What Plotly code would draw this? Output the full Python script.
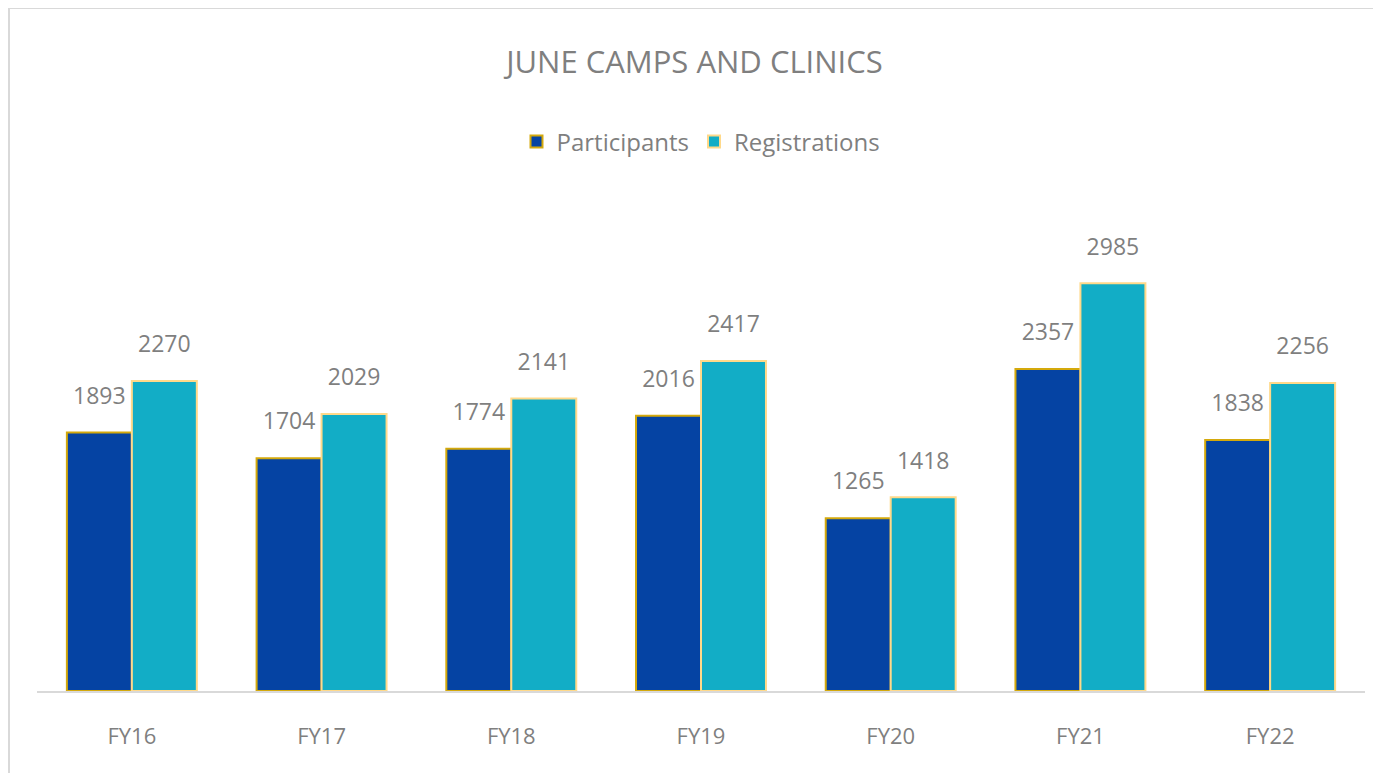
import plotly.graph_objects as go

categories = ["FY16", "FY17", "FY18", "FY19", "FY20", "FY21", "FY22"]
participants = [1893, 1704, 1774, 2016, 1265, 2357, 1838]
registrations = [2270, 2029, 2141, 2417, 1418, 2985, 2256]

FONT = "Open Sans"
GRAY = "#7f7f7f"
label_tpl = "<span style='font-size:23px'>%{y}</span><br> "

W, H = 1373, 765  # page body adds an 8px offset

fig = go.Figure()
fig.add_trace(go.Bar(
    name="Participants", x=categories, y=participants,
    marker=dict(color="#0543A3", line=dict(color="#D4A90C", width=2)),
    texttemplate=label_tpl, textposition="outside",
    textfont=dict(family=FONT, size=16, color=GRAY), cliponaxis=False,
))
fig.add_trace(go.Bar(
    name="Registrations", x=categories, y=registrations,
    marker=dict(color="#12ADC6", line=dict(color="#FFD98A", width=2)),
    texttemplate=label_tpl, textposition="outside",
    textfont=dict(family=FONT, size=16, color=GRAY), cliponaxis=False,
))

fig.update_layout(
    width=W, height=H,
    paper_bgcolor="white", plot_bgcolor="white",
    barmode="group", bargap=0.315, bargroupgap=0,
    margin=dict(l=29, r=16, t=205, b=82),
    title=dict(text="JUNE CAMPS AND CLINICS", x=0.5, xanchor="center",
               y=1 - 54 / H, yanchor="middle",
               font=dict(family=FONT, size=31, color=GRAY)),
    legend=dict(orientation="h", x=0.5, xanchor="center", y=1 - 134 / H,
                yref="container", yanchor="middle",
                font=dict(family=FONT, size=24, color=GRAY),
                itemwidth=30, traceorder="normal"),
    showlegend=True,
    xaxis=dict(showline=True, linecolor="#d9d9d9", linewidth=2,
               tickfont=dict(family=FONT, size=22, color=GRAY),
               ticks="", ticklabelstandoff=25, showgrid=False),
    yaxis=dict(range=[0, 3500], visible=False, showgrid=False),
    shapes=[dict(type="rect", xref="paper", yref="paper",
                 x0=-28 / 1328, x1=1.2, y0=-0.5, y1=1 + 205 / 478,
                 line=dict(color="#d9d9d9", width=2), layer="below")],
)

fig.write_html("out.html")
